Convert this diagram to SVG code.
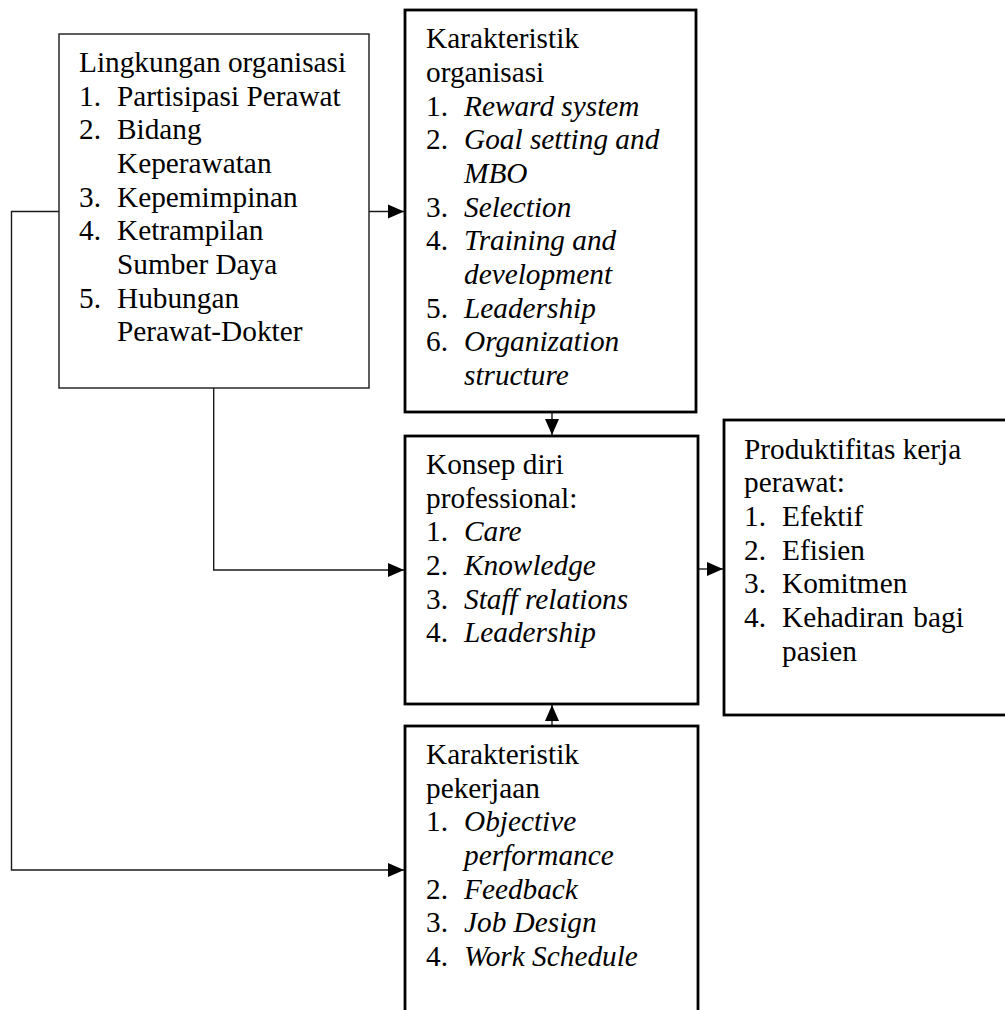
<svg xmlns="http://www.w3.org/2000/svg" width="1005" height="1010" viewBox="0 0 1005 1010">
  <style>
    .box { fill: #ffffff; stroke: #000000; stroke-width: 2.8; }
    .thin { fill: #ffffff; stroke: #1a1a1a; stroke-width: 1.4; }
    .wire { fill: none; stroke: #1a1a1a; stroke-width: 1.4; }
    text { font-family: 'Liberation Serif', serif; font-size: 29.3px; fill: #000000; }
    .it { font-style: italic; }
  </style>
  <defs>
    <marker id="arrow" markerUnits="userSpaceOnUse" markerWidth="16" markerHeight="16" viewBox="0 0 16 16" refX="16" refY="8" orient="auto">
      <path d="M0,1 L16,8 L0,15 Z" fill="#000000"/>
    </marker>
  </defs>

  <!-- connectors -->
  <g id="connectors">
    <polyline class="wire" points="59,211.5 11.5,211.5 11.5,870 404,870" marker-end="url(#arrow)"/>
    <polyline class="wire" points="213.7,388 213.7,570 404,570" marker-end="url(#arrow)"/>
    <line class="wire" x1="369" y1="211.5" x2="404" y2="211.5" marker-end="url(#arrow)"/>
    <line class="wire" x1="552" y1="412" x2="552" y2="435" marker-end="url(#arrow)"/>
    <line class="wire" x1="552" y1="726" x2="552" y2="705" marker-end="url(#arrow)"/>
    <line class="wire" x1="698" y1="569" x2="723" y2="569" marker-end="url(#arrow)"/>
  </g>

  <g font-family="Liberation Serif, serif">
  <!-- organisational environment -->
  <g id="lingkungan">
    <rect class="thin" x="59" y="34" width="310" height="354"/>
    <text x="79" y="72">Lingkungan organisasi</text>
    <text x="79" y="106">1.</text><text x="117" y="106">Partisipasi Perawat</text>
    <text x="79" y="139">2.</text><text x="117" y="139">Bidang</text>
    <text x="117" y="173">Keperawatan</text>
    <text x="79" y="207">3.</text><text x="117" y="207">Kepemimpinan</text>
    <text x="79" y="240">4.</text><text x="117" y="240">Ketrampilan</text>
    <text x="117" y="274">Sumber Daya</text>
    <text x="79" y="308">5.</text><text x="117" y="308">Hubungan</text>
    <text x="117" y="341">Perawat-Dokter</text>
  </g>

  <!-- organisational characteristics -->
  <g id="karakteristik-organisasi">
    <rect class="box" x="405" y="10" width="291" height="402"/>
    <text x="426" y="48">Karakteristik</text>
    <text x="426" y="82">organisasi</text>
    <text x="426" y="116">1.</text><text class="it" x="464" y="116">Reward system</text>
    <text x="426" y="149">2.</text><text class="it" x="464" y="149">Goal setting and</text>
    <text class="it" x="464" y="183">MBO</text>
    <text x="426" y="217">3.</text><text class="it" x="464" y="217">Selection</text>
    <text x="426" y="250">4.</text><text class="it" x="464" y="250">Training and</text>
    <text class="it" x="464" y="284">development</text>
    <text x="426" y="318">5.</text><text class="it" x="464" y="318">Leadership</text>
    <text x="426" y="351">6.</text><text class="it" x="464" y="351">Organization</text>
    <text class="it" x="464" y="385">structure</text>
  </g>

  <!-- professional self-concept -->
  <g id="konsep-diri">
    <rect class="box" x="405" y="436" width="293" height="268"/>
    <text x="426" y="474">Konsep diri</text>
    <text x="426" y="508">professional:</text>
    <text x="426" y="541">1.</text><text class="it" x="464" y="541">Care</text>
    <text x="426" y="575">2.</text><text class="it" x="464" y="575">Knowledge</text>
    <text x="426" y="609">3.</text><text class="it" x="464" y="609">Staff relations</text>
    <text x="426" y="642">4.</text><text class="it" x="464" y="642">Leadership</text>
  </g>

  <!-- nurse productivity -->
  <g id="produktifitas">
    <rect class="box" x="724" y="420" width="300" height="295"/>
    <text x="744" y="459">Produktifitas kerja</text>
    <text x="744" y="492">perawat:</text>
    <text x="744" y="526">1.</text><text x="782" y="526">Efektif</text>
    <text x="744" y="560">2.</text><text x="782" y="560">Efisien</text>
    <text x="744" y="593">3.</text><text x="782" y="593">Komitmen</text>
    <text x="744" y="627">4.</text><text x="782" y="627" word-spacing="2">Kehadiran bagi</text>
    <text x="782" y="661">pasien</text>
  </g>

  <!-- job characteristics -->
  <g id="karakteristik-pekerjaan">
    <rect class="box" x="405" y="726" width="293" height="300"/>
    <text x="426" y="764">Karakteristik</text>
    <text x="426" y="798">pekerjaan</text>
    <text x="426" y="831">1.</text><text class="it" x="464" y="831">Objective</text>
    <text class="it" x="464" y="865">performance</text>
    <text x="426" y="899">2.</text><text class="it" x="464" y="899">Feedback</text>
    <text x="426" y="932">3.</text><text class="it" x="464" y="932">Job Design</text>
    <text x="426" y="966">4.</text><text class="it" x="464" y="966">Work Schedule</text>
  </g>
  </g>
</svg>
